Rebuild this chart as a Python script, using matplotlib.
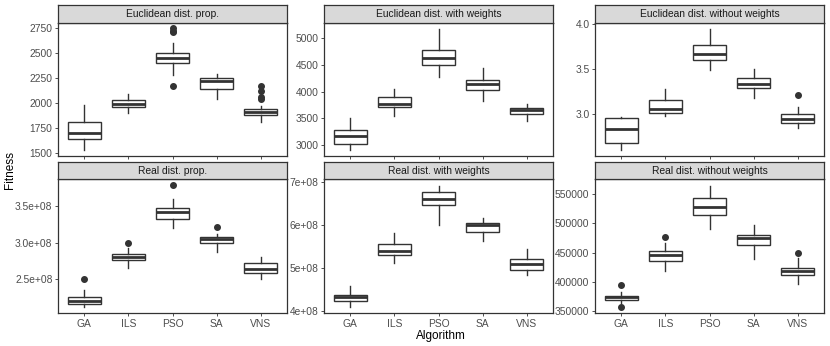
import matplotlib.pyplot as plt

plt.rcParams['font.family'] = ['Liberation Sans', 'DejaVu Sans']

algorithms = ['GA', 'ILS', 'PSO', 'SA', 'VNS']
titles = ['Euclidean dist. prop.', 'Euclidean dist. with weights', 'Euclidean dist. without weights',
          'Real dist. prop.', 'Real dist. with weights', 'Real dist. without weights']

# box stats per algorithm: (whisker low, q1, median, q3, whisker high)
euc_prop = [(1533, 1640, 1703, 1807, 1977), (1900, 1963, 1990, 2027, 2090),
            (2280, 2400, 2453, 2507, 2600), (2040, 2143, 2217, 2247, 2290),
            (1813, 1883, 1913, 1940, 1973)]
euc_prop_out = [[], [], [2750, 2722, 2708, 2167], [], [2170, 2123, 2060, 2040]]

euc_w = [(2906, 3012, 3169, 3281, 3500), (3544, 3712, 3769, 3894, 4044),
         (4269, 4494, 4619, 4781, 5169), (3825, 4031, 4144, 4219, 4437),
         (3450, 3581, 3650, 3688, 3769)]
euc_w_out = [[], [], [], [], []]

euc_nw = [(2.599, 2.673, 2.829, 2.959, 2.970), (2.978, 3.015, 3.052, 3.156, 3.279),
          (3.487, 3.602, 3.669, 3.766, 3.944), (3.175, 3.290, 3.331, 3.394, 3.498),
          (2.840, 2.896, 2.940, 3.000, 3.082)]
euc_nw_out = [[], [], [], [], [3.212]]

real_prop = [(2.127e8, 2.173e8, 2.214e8, 2.264e8, 2.364e8), (2.65e8, 2.764e8, 2.809e8, 2.85e8, 2.923e8),
             (3.205e8, 3.318e8, 3.414e8, 3.464e8, 3.591e8), (2.877e8, 3.0e8, 3.045e8, 3.082e8, 3.118e8),
             (2.505e8, 2.591e8, 2.645e8, 2.727e8, 2.809e8)]
real_prop_out = [[2.509e8], [3.0e8], [3.782e8], [3.218e8], []]

real_w = [(4.093e8, 4.225e8, 4.326e8, 4.381e8, 4.575e8), (5.103e8, 5.29e8, 5.399e8, 5.546e8, 5.803e8),
          (5.997e8, 6.455e8, 6.603e8, 6.766e8, 6.906e8), (5.632e8, 5.841e8, 5.989e8, 6.036e8, 6.152e8),
          (4.831e8, 4.948e8, 5.08e8, 5.197e8, 5.445e8)]
real_w_out = [[], [], [], [], []]

real_nw = [(363800, 368900, 373500, 375800, 382700), (418800, 436000, 446300, 452000, 465800),
           (489800, 514500, 528200, 542600, 564300), (438800, 462900, 474900, 480100, 497300),
           (397000, 411300, 418200, 423900, 440000)]
real_nw_out = [[394100, 356900], [477200], [], [], [448600]]

panels = [euc_prop, euc_w, euc_nw, real_prop, real_w, real_nw]
outliers = [euc_prop_out, euc_w_out, euc_nw_out, real_prop_out, real_w_out, real_nw_out]
ylims = [(1470, 2803), (2794, 5281), (2.532, 4.011), (2.045e8, 3.864e8), (3.953e8, 7.061e8), (346600, 575800)]
yticks = [[1500, 1750, 2000, 2250, 2500, 2750], [3000, 3500, 4000, 4500, 5000], [3.0, 3.5, 4.0],
          [2.5e8, 3.0e8, 3.5e8], [4e8, 5e8, 6e8, 7e8], [350000, 400000, 450000, 500000, 550000]]
ylabels = [None, None, ['3.0', '3.5', '4.0'], ['2.5e+08', '3.0e+08', '3.5e+08'],
           ['4e+08', '5e+08', '6e+08', '7e+08'], None]

W, H = 830, 346
fig = plt.figure(figsize=(W / 100, H / 100), dpi=100)

dark = '#333333'
cols = [(58, 287), (324, 553), (595, 824)]
rows = [(5, 23, 156), (162, 179, 313)]  # strip top, plot top, plot bottom

def frac(x0, y0, x1, y1):
    return [x0 / W, 1 - y1 / H, (x1 - x0) / W, (y1 - y0) / H]

for i, stats in enumerate(panels):
    c, r = cols[i % 3], rows[i // 3]
    ax = fig.add_axes(frac(c[0], r[1], c[1], r[2]))
    bx = []
    for s, fl in zip(stats, outliers[i]):
        bx.append(dict(whislo=s[0], q1=s[1], med=s[2], q3=s[3], whishi=s[4], fliers=fl))
    ax.bxp(bx, positions=range(1, 6), widths=0.75, showcaps=False, patch_artist=True,
           boxprops=dict(facecolor='white', edgecolor=dark, linewidth=1.0),
           whiskerprops=dict(color=dark, linewidth=1.0),
           medianprops=dict(color=dark, linewidth=2.0),
           flierprops=dict(marker='o', markerfacecolor=dark, markeredgecolor=dark, markersize=4))
    ax.set_xlim(0.4, 5.6)
    ax.set_ylim(*ylims[i])
    ax.set_yticks(yticks[i])
    if ylabels[i]:
        ax.set_yticklabels(ylabels[i])
    ax.set_xticks(range(1, 6))
    if i >= 3:
        ax.set_xticklabels(algorithms)
    else:
        ax.set_xticklabels([])
        ax.tick_params(axis='x', length=0)
    ax.tick_params(colors=dark, labelcolor='#4D4D4D', labelsize=7.4, length=2.5, width=0.6, pad=1.5)
    for sp in ax.spines.values():
        sp.set_color(dark)
        sp.set_linewidth(0.9)

    st = fig.add_axes(frac(c[0], r[0], c[1], r[1]))
    st.set_facecolor('#D9D9D9')
    st.set_xticks([])
    st.set_yticks([])
    for sp in st.spines.values():
        sp.set_color(dark)
        sp.set_linewidth(0.9)
    st.text(0.5, 0.5, titles[i], ha='center', va='center', fontsize=7.4, color='#1A1A1A',
            transform=st.transAxes)

fig.text(10 / W, 1 - 170 / H, 'Fitness', rotation=90, ha='center', va='center', fontsize=8.5)
fig.text(441 / W, 1 - 336 / H, 'Algorithm', ha='center', va='center', fontsize=8.5)

fig.savefig('out.png', dpi=100)
